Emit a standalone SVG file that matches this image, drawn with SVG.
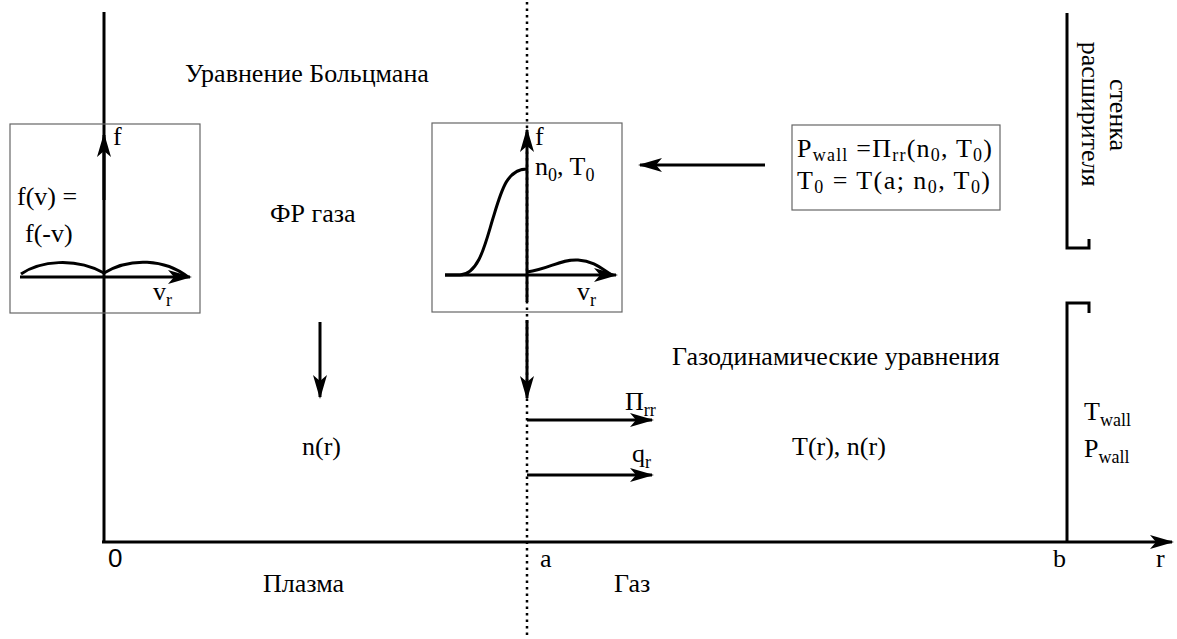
<svg xmlns="http://www.w3.org/2000/svg" width="1177" height="639" viewBox="0 0 1177 639">
<style>
text{font-family:"Liberation Serif","Times New Roman",serif;font-size:26px;fill:#000}
.sub{font-size:18px}
.sans{font-family:"Liberation Sans",Arial,sans-serif}
.ax{stroke:#000;stroke-width:3;fill:none}
.box{stroke:#666;stroke-width:1.2;fill:none}
.dot{stroke:#000;stroke-width:2.5;stroke-dasharray:2.5 4;fill:none}
</style>
<defs>
<marker id="ah" viewBox="0 0 24 16" refX="22" refY="8" markerWidth="24" markerHeight="16" markerUnits="userSpaceOnUse" orient="auto">
<path d="M0,1 L24,8 L0,15 L6,8 Z" fill="#000"/>
</marker>
</defs>
<rect width="1177" height="639" fill="#fff"/>

<g id="axes">
<line class="dot" x1="527" y1="2" x2="527" y2="639"/>
<line class="ax" x1="104" y1="12" x2="104" y2="543"/>
<line class="ax" x1="102" y1="542" x2="1172" y2="542" marker-end="url(#ah)"/>
<text class="sans" x="108" y="567">0</text>
<text x="540" y="567">a</text>
<text x="1053" y="567">b</text>
<text x="1156" y="567">r</text>
<text x="263" y="592">Плазма</text>
<text x="614" y="592">Газ</text>
</g>

<g id="wall">
<polyline class="ax" points="1067,13 1067,248 1089,248 1089,239"/>
<polyline class="ax" points="1089,313 1089,303 1067,303 1067,542"/>
<text transform="translate(1110,115) rotate(90)" text-anchor="middle">стенка</text>
<text transform="translate(1082,114) rotate(90)" text-anchor="middle">расширителя</text>
<text x="1084" y="420">T<tspan class="sub" dy="6">wall</tspan></text>
<text x="1084" y="457">P<tspan class="sub" dy="6">wall</tspan></text>
</g>

<g id="boltzmann">
<text x="185" y="82">Уравнение Больцмана</text>
</g>

<g id="left-box">
<rect class="box" x="10" y="124" width="190" height="189"/>
<line class="ax" x1="104" y1="200" x2="104" y2="135" marker-end="url(#ah)"/>
<line class="ax" x1="20" y1="277" x2="190" y2="277" marker-end="url(#ah)"/>
<path class="ax" d="M21,274 C40,261 75,257 104,273 C130,257 165,259 188,277"/>
<text x="113" y="145">f</text>
<text x="17" y="205">f(v) =</text>
<text x="25" y="242">f(-v)</text>
<text x="153" y="300">v<tspan class="sub" dy="6">r</tspan></text>
</g>

<g id="gas-fr">
<text x="270" y="222">ФР газа</text>
</g>

<g id="mid-box">
<rect class="box" x="432" y="123" width="190" height="189"/>
<line class="ax" x1="527" y1="302" x2="527" y2="130" marker-end="url(#ah)"/>
<line class="ax" x1="445" y1="275" x2="616" y2="275" marker-end="url(#ah)"/>
<path class="ax" d="M445,275 L460,275 C480,274 486,240 494,215 C502,188 508,169 527,169"/>
<path class="ax" d="M527,272 C550,269 560,259 578,260 C595,261 603,270 612,275"/>
<text x="535" y="145">f</text>
<text x="535" y="175">n<tspan class="sub" dy="6">0</tspan><tspan dy="-6">, T</tspan><tspan class="sub" dy="6">0</tspan></text>
<text x="577" y="300">v<tspan class="sub" dy="6">r</tspan></text>
</g>

<g id="cond-box">
<rect class="box" x="792" y="125" width="208" height="85"/>
<text x="797" y="157" textLength="195" lengthAdjust="spacing">P<tspan class="sub" dy="4">wall</tspan><tspan dy="-4"> =Π</tspan><tspan class="sub" dy="4">rr</tspan><tspan dy="-4">(n</tspan><tspan class="sub" dy="4">0</tspan><tspan dy="-4">, T</tspan><tspan class="sub" dy="4">0</tspan><tspan dy="-4">)</tspan></text>
<text x="797" y="189" textLength="193" lengthAdjust="spacing">T<tspan class="sub" dy="4">0</tspan><tspan dy="-4"> = T(a; n</tspan><tspan class="sub" dy="4">0</tspan><tspan dy="-4">, T</tspan><tspan class="sub" dy="4">0</tspan><tspan dy="-4">)</tspan></text>
</g>

<g id="gasdyn">
<text x="672" y="365">Газодинамические уравнения</text>
<text x="302" y="455">n(r)</text>
<text x="792" y="455">T(r), n(r)</text>
<text x="625" y="410">Π<tspan class="sub" dy="6">rr</tspan></text>
<text x="632" y="462">q<tspan class="sub" dy="6">r</tspan></text>
</g>

<g id="connectors">
<line class="ax" x1="765" y1="165" x2="640" y2="165" marker-end="url(#ah)"/>
<line class="ax" x1="320" y1="322" x2="320" y2="397" marker-end="url(#ah)"/>
<line class="ax" x1="527" y1="320" x2="527" y2="398" marker-end="url(#ah)"/>
<line class="ax" x1="527" y1="420" x2="652" y2="420" marker-end="url(#ah)"/>
<line class="ax" x1="527" y1="475" x2="652" y2="475" marker-end="url(#ah)"/>
</g>
</svg>
